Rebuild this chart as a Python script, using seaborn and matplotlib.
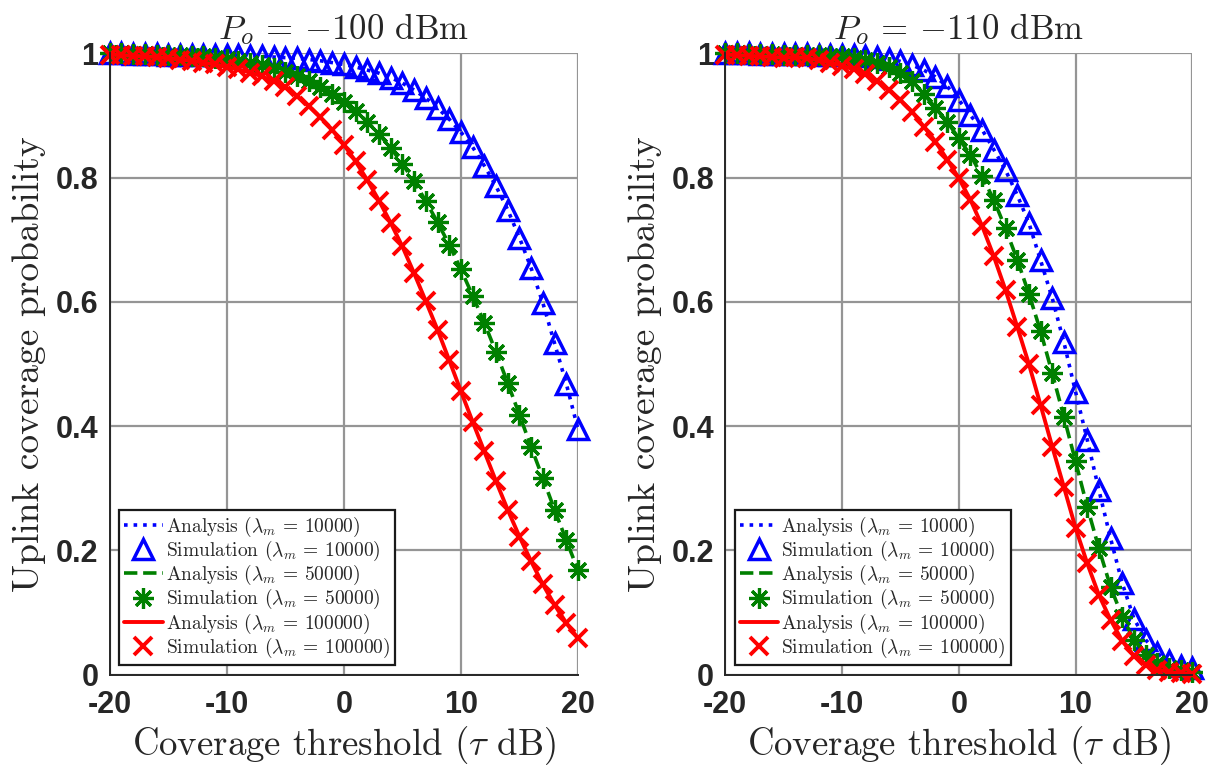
import matplotlib
matplotlib.use("Agg")
import matplotlib.pyplot as plt
import pandas as pd
import seaborn as sns

# Coverage threshold grid (dB)
tau_db = list(range(-20, 21))

# Uplink coverage probability, P_o = -100 dBm
cov_100_lam10k = [1.000, 1.000, 0.999, 0.999, 0.999, 0.998, 0.998, 0.998, 0.998, 0.998,
                  0.997, 0.997, 0.996, 0.995, 0.994, 0.993, 0.992, 0.990, 0.988, 0.985,
                  0.982, 0.978, 0.973, 0.968, 0.961, 0.952, 0.941, 0.928, 0.912, 0.894,
                  0.873, 0.849, 0.819, 0.786, 0.748, 0.703, 0.654, 0.598, 0.533, 0.468,
                  0.395]
cov_100_lam50k = [1.000, 1.000, 0.999, 0.999, 0.998, 0.998, 0.997, 0.996, 0.995, 0.993,
                  0.991, 0.988, 0.985, 0.981, 0.976, 0.970, 0.963, 0.955, 0.945, 0.934,
                  0.922, 0.907, 0.890, 0.870, 0.848, 0.822, 0.794, 0.762, 0.728, 0.692,
                  0.652, 0.610, 0.566, 0.519, 0.469, 0.418, 0.366, 0.316, 0.265, 0.216,
                  0.168]
cov_100_lam100k = [0.998, 0.997, 0.996, 0.995, 0.994, 0.992, 0.990, 0.988, 0.985, 0.982,
                   0.978, 0.974, 0.969, 0.963, 0.955, 0.945, 0.931, 0.915, 0.897, 0.877,
                   0.853, 0.826, 0.796, 0.763, 0.727, 0.689, 0.646, 0.601, 0.555, 0.506,
                   0.456, 0.407, 0.359, 0.311, 0.265, 0.222, 0.182, 0.145, 0.112, 0.083,
                   0.058]

# Uplink coverage probability, P_o = -110 dBm
cov_110_lam10k = [1.000, 1.000, 1.000, 0.999, 0.999, 0.999, 0.999, 0.999, 0.998, 0.998,
                  0.998, 0.997, 0.996, 0.994, 0.991, 0.987, 0.981, 0.973, 0.962, 0.947,
                  0.925, 0.900, 0.877, 0.845, 0.812, 0.772, 0.727, 0.667, 0.606, 0.535,
                  0.455, 0.378, 0.297, 0.219, 0.147, 0.090, 0.056, 0.034, 0.021, 0.014,
                  0.010]
cov_110_lam50k = [1.000, 1.000, 0.999, 0.999, 0.999, 0.998, 0.998, 0.997, 0.997, 0.996,
                  0.995, 0.993, 0.990, 0.985, 0.978, 0.968, 0.955, 0.935, 0.912, 0.890,
                  0.863, 0.836, 0.802, 0.764, 0.718, 0.668, 0.613, 0.553, 0.485, 0.415,
                  0.343, 0.270, 0.203, 0.141, 0.093, 0.056, 0.032, 0.019, 0.011, 0.007,
                  0.004]
cov_110_lam100k = [0.998, 0.997, 0.996, 0.995, 0.994, 0.993, 0.994, 0.992, 0.989, 0.985,
                   0.980, 0.974, 0.966, 0.955, 0.941, 0.925, 0.906, 0.882, 0.858, 0.829,
                   0.799, 0.764, 0.722, 0.673, 0.619, 0.560, 0.500, 0.434, 0.367, 0.302,
                   0.236, 0.179, 0.128, 0.088, 0.054, 0.030, 0.015, 0.008, 0.004, 0.002,
                   0.001]

densities = ["10000", "50000", "100000"]
panel_titles = [r"$P_o$ = $-100$ dBm", r"$P_o$ = $-110$ dBm"]
x_ticks = [-20, -10, 0, 10, 20]
x_tick_labels = ["-20", "-10", "0", "10", "20"]
y_ticks = [0, 0.2, 0.4, 0.6, 0.8, 1]
y_tick_labels = ["0", "0.2", "0.4", "0.6", "0.8", "1"]

sns.set_style("white")
plt.rcParams["mathtext.fontset"] = "cm"
plt.rcParams["axes.unicode_minus"] = False

SERIF = "cmr10"
TICK_FONT = dict(family="Liberation Sans", weight="bold", size=22)

# (colour, line style, line width, marker, marker size, marker edge width, hollow?)
styles = [
    ("#0000ff", ":", 2.6, "^", 15, 2.5, True),
    ("#008000", "--", 2.6, (8, 2, 0), 15, 2.3, False),
    ("#ff0000", "-", 2.8, "x", 13, 2.8, False),
]

fig = plt.figure(figsize=(12.17, 7.67), dpi=100)
W, H = 1217, 767
ax_left = fig.add_axes([109.7 / W, (H - 674.5) / H, 468.3 / W, 621.2 / H])
ax_right = fig.add_axes([725.3 / W, (H - 674.5) / H, 467.0 / W, 621.2 / H])

panels = [
    (ax_left, [cov_100_lam10k, cov_100_lam50k, cov_100_lam100k], panel_titles[0]),
    (ax_right, [cov_110_lam10k, cov_110_lam50k, cov_110_lam100k], panel_titles[1]),
]

for ax, series, title in panels:
    for vals, dens, (col, ls, lw, mk, ms, mew, hollow) in zip(series, densities, styles):
        df = pd.DataFrame({"tau": tau_db, "pc": vals})
        sns.lineplot(data=df, x="tau", y="pc", ax=ax, color=col, linestyle=ls,
                     linewidth=lw, estimator=None, sort=False,
                     label=r"Analysis ($\lambda_m$ = %s)" % dens)
        sns.lineplot(data=df, x="tau", y="pc", ax=ax, color=col, linestyle="none",
                     marker=mk, markersize=ms, markeredgewidth=mew,
                     markeredgecolor=col,
                     markerfacecolor="none" if hollow else col,
                     estimator=None, sort=False,
                     label=r"Simulation ($\lambda_m$ = %s)" % dens)

    ax.set_xlim(-20, 20)
    ax.set_ylim(0, 1)
    ax.set_xticks(x_ticks)
    ax.set_xticklabels(x_tick_labels, fontdict=TICK_FONT)
    ax.set_yticks(y_ticks)
    ax.set_yticklabels(y_tick_labels, fontdict=TICK_FONT)
    ax.tick_params(direction="in", length=6, width=1.3, color="#262626",
                   labelcolor="#262626", top=False, right=False)
    ax.tick_params(axis="x", pad=11)
    ax.tick_params(axis="y", pad=8)

    ax.grid(True, color="#959595", linewidth=1.6)
    ax.set_axisbelow(True)
    for side in ("top", "right"):
        ax.spines[side].set_visible(False)
    for side in ("left", "bottom"):
        ax.spines[side].set_color("#262626")
        ax.spines[side].set_linewidth(1.4)
        ax.spines[side].set_zorder(5)

    ax.set_title(title, fontsize=25, family=SERIF, pad=10)
    ax.set_xlabel(r"Coverage threshold ($\tau$ dB)", fontsize=26.5, family=SERIF,
                  labelpad=3)
    ax.set_ylabel("Uplink coverage probability", fontsize=27, family=SERIF,
                  labelpad=7)

    handles, labels = ax.get_legend_handles_labels()
    leg = ax.legend(handles, labels, loc="lower left", bbox_to_anchor=(0.02, 0.016),
                    borderaxespad=0, prop=dict(family=SERIF, size=14),
                    frameon=True, fancybox=False, framealpha=1, edgecolor="#1a1a1a",
                    handlelength=2.0, handletextpad=0.15, labelspacing=0.0,
                    borderpad=0.25)
    leg.get_frame().set_linewidth(1.6)
    for c in ax.get_children():
        if hasattr(c, "get_marker"):
            c.set_clip_on(False)

fig.savefig("out.png", dpi=100)
